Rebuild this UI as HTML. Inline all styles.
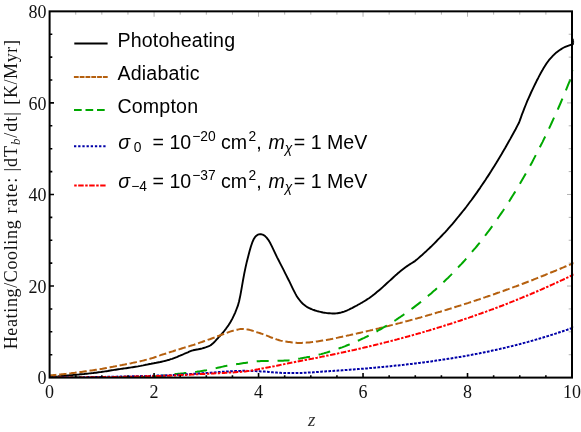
<!DOCTYPE html>
<html lang="en"><head><meta charset="utf-8"><title>Heating/Cooling rate vs z</title>
<style>
html,body{margin:0;padding:0;background:#fff;}
body{width:581px;height:432px;overflow:hidden;font-family:"Liberation Sans", sans-serif;}
svg{display:block;will-change:transform;}
.tk{font-family:"Liberation Serif", serif;font-size:18px;fill:#111;}
.lg{font-family:"Liberation Sans", sans-serif;font-size:19.6px;fill:#000;}
.it{font-style:italic;}
</style></head><body>
<svg width="581" height="432" viewBox="0 0 581 432">
<rect width="581" height="432" fill="#fff"/>
<defs><clipPath id="c"><rect x="49.6" y="10.35" width="523.9" height="367.25"/></clipPath></defs>
<g clip-path="url(#c)" fill="none" stroke-linejoin="round">
<path d="M50.0 377.4L51.3 377.2L52.6 377.0L53.9 376.9L55.3 376.7L56.6 376.6L57.9 376.5L59.2 376.3L60.5 376.2L61.8 376.0L63.1 375.9L64.4 375.8L65.8 375.7L67.1 375.5L68.4 375.4L69.7 375.3L71.0 375.2L72.3 375.1L73.6 374.9L74.9 374.8L76.3 374.7L77.6 374.6L78.9 374.5L80.2 374.3L81.5 374.2L82.8 374.1L84.1 374.0L85.4 373.8L86.8 373.7L88.1 373.6L89.4 373.4L90.7 373.3L92.0 373.1L93.3 373.0L94.6 372.8L96.0 372.7L97.3 372.5L98.6 372.3L99.9 372.1L101.2 372.0L102.5 371.8L103.8 371.6L105.1 371.4L106.5 371.2L107.8 371.0L109.1 370.7L110.4 370.5L111.7 370.3L113.0 370.1L114.3 369.9L115.6 369.7L117.0 369.5L118.3 369.3L119.6 369.1L120.9 368.9L122.2 368.7L123.5 368.5L124.8 368.4L126.2 368.2L127.5 368.0L128.8 367.8L130.1 367.6L131.4 367.4L132.7 367.2L134.0 367.0L135.3 366.8L136.7 366.6L138.0 366.4L139.3 366.1L140.6 365.9L141.9 365.6L143.2 365.4L144.5 365.1L145.8 364.8L147.2 364.6L148.5 364.3L149.8 364.0L151.1 363.8L152.4 363.5L153.7 363.3L155.0 363.0L156.3 362.8L157.7 362.5L159.0 362.2L160.3 362.0L161.6 361.7L162.9 361.4L164.2 361.1L165.5 360.8L166.9 360.4L168.2 360.0L169.5 359.7L170.8 359.2L172.1 358.8L173.4 358.3L174.7 357.8L176.0 357.3L177.4 356.8L178.7 356.2L180.0 355.7L181.3 355.1L182.6 354.6L183.9 354.0L185.2 353.4L186.5 352.9L187.9 352.3L189.2 351.7L190.5 351.2L191.8 350.7L193.1 350.3L194.4 350.0L195.7 349.7L197.0 349.5L198.4 349.3L199.7 349.0L201.0 348.7L202.3 348.4L203.6 348.0L204.9 347.6L206.2 347.2L207.6 346.7L208.9 346.2L210.2 345.5L211.5 344.6L212.8 343.5L214.1 342.3L215.4 340.9L216.7 339.4L218.1 338.0L219.4 336.5L220.7 335.1L222.0 333.6L223.3 332.1L224.6 330.5L225.9 328.8L227.2 327.0L228.6 325.1L229.9 323.1L231.2 320.8L232.5 318.4L233.8 315.7L235.1 312.8L236.4 309.5L237.8 305.9L239.1 301.3L240.4 295.1L241.7 287.9L243.0 280.4L244.3 273.4L245.6 267.1L246.9 261.4L248.3 256.0L249.6 251.1L250.9 246.5L252.2 242.7L253.5 239.6L254.8 237.4L256.1 235.9L257.4 234.9L258.8 234.4L260.1 234.2L261.4 234.3L262.7 234.7L264.0 235.3L265.3 236.3L266.6 237.6L267.9 239.3L269.3 241.4L270.6 243.8L271.9 246.4L273.2 249.1L274.5 251.9L275.8 254.7L277.1 257.4L278.5 260.0L279.8 262.6L281.1 265.1L282.4 267.6L283.7 270.2L285.0 272.8L286.3 275.4L287.6 278.0L289.0 280.7L290.3 283.4L291.6 286.1L292.9 288.8L294.2 291.4L295.5 293.9L296.8 296.2L298.1 298.2L299.5 300.0L300.8 301.6L302.1 303.0L303.4 304.3L304.7 305.3L306.0 306.3L307.3 307.1L308.7 307.8L310.0 308.5L311.3 309.0L312.6 309.6L313.9 310.0L315.2 310.5L316.5 310.9L317.8 311.3L319.2 311.6L320.5 311.9L321.8 312.2L323.1 312.5L324.4 312.7L325.7 312.9L327.0 313.1L328.3 313.2L329.7 313.3L331.0 313.4L332.3 313.5L333.6 313.5L334.9 313.5L336.2 313.4L337.5 313.2L338.8 313.0L340.2 312.8L341.5 312.4L342.8 312.0L344.1 311.6L345.4 311.1L346.7 310.6L348.0 310.0L349.4 309.4L350.7 308.7L352.0 308.1L353.3 307.4L354.6 306.7L355.9 306.0L357.2 305.3L358.5 304.5L359.9 303.8L361.2 303.0L362.5 302.3L363.8 301.5L365.1 300.7L366.4 299.9L367.7 299.0L369.0 298.2L370.4 297.2L371.7 296.3L373.0 295.3L374.3 294.3L375.6 293.2L376.9 292.1L378.2 291.0L379.5 289.9L380.9 288.8L382.2 287.6L383.5 286.4L384.8 285.2L386.1 284.0L387.4 282.8L388.7 281.6L390.1 280.4L391.4 279.2L392.7 278.0L394.0 276.8L395.3 275.6L396.6 274.5L397.9 273.3L399.2 272.2L400.6 271.1L401.9 270.0L403.2 269.0L404.5 268.0L405.8 267.0L407.1 266.1L408.4 265.2L409.7 264.4L411.1 263.5L412.4 262.7L413.7 261.9L415.0 261.1L416.8 259.6L418.5 258.1L420.3 256.5L422.1 255.0L423.8 253.4L425.6 251.8L427.3 250.1L429.1 248.5L430.9 246.8L432.6 245.1L434.4 243.3L436.2 241.5L437.9 239.7L439.7 237.9L441.5 236.0L443.2 234.2L445.0 232.3L446.8 230.3L448.5 228.3L450.3 226.3L452.1 224.3L453.8 222.3L455.6 220.2L457.3 218.0L459.1 215.9L460.9 213.7L462.6 211.5L464.4 209.3L466.2 207.0L467.9 204.7L469.7 202.3L471.5 200.0L473.2 197.6L475.0 195.1L476.8 192.6L478.5 190.1L480.3 187.6L482.0 185.0L483.8 182.4L485.6 179.8L487.3 177.1L489.1 174.4L490.9 171.6L492.6 168.8L494.4 166.0L496.2 163.1L497.9 160.2L499.7 157.3L501.5 154.3L503.2 151.3L505.0 148.3L506.7 145.2L508.5 142.1L510.3 138.9L512.0 135.7L513.8 132.5L515.6 129.2L517.3 125.9L519.1 122.5L520.5 118.7L521.8 114.9L523.2 111.3L524.5 107.9L525.9 104.5L527.2 101.2L528.6 98.1L530.0 95.0L531.3 92.0L532.7 89.1L534.0 86.3L535.4 83.5L536.7 80.8L538.1 78.2L539.4 75.6L540.8 73.0L542.2 70.6L543.5 68.2L544.9 66.0L546.2 63.9L547.6 62.0L548.9 60.2L550.3 58.6L551.7 57.1L553.0 55.7L554.4 54.3L555.7 53.1L557.1 52.0L558.4 51.0L559.8 50.0L561.2 49.1L562.5 48.3L563.9 47.5L565.2 46.9L566.6 46.3L567.9 45.8L569.3 45.3L570.7 44.8L572.0 44.4L573.4 44.0" stroke="#000" stroke-width="1.9"/>
<path d="M50.0 375.4L51.3 375.3L52.6 375.2L53.9 375.1L55.2 375.0L56.5 374.8L57.9 374.7L59.2 374.6L60.5 374.4L61.8 374.3L63.1 374.2L64.4 374.0L65.7 373.9L67.0 373.7L68.3 373.6L69.6 373.4L71.0 373.3L72.3 373.1L73.6 372.9L74.9 372.8L76.2 372.6L77.5 372.4L78.8 372.3L80.1 372.1L81.4 371.9L82.7 371.7L84.1 371.5L85.4 371.3L86.7 371.2L88.0 371.0L89.3 370.8L90.6 370.6L91.9 370.4L93.2 370.2L94.5 370.0L95.8 369.8L97.1 369.6L98.5 369.4L99.8 369.2L101.1 369.0L102.4 368.8L103.7 368.5L105.0 368.3L106.3 368.1L107.6 367.8L108.9 367.6L110.2 367.3L111.6 367.0L112.9 366.8L114.2 366.5L115.5 366.3L116.8 366.0L118.1 365.7L119.4 365.5L120.7 365.2L122.0 365.0L123.3 364.7L124.7 364.5L126.0 364.2L127.3 364.0L128.6 363.7L129.9 363.4L131.2 363.2L132.5 362.9L133.8 362.6L135.1 362.4L136.4 362.1L137.8 361.8L139.1 361.5L140.4 361.2L141.7 360.9L143.0 360.6L144.3 360.3L145.6 359.9L146.9 359.6L148.2 359.2L149.5 358.9L150.8 358.5L152.2 358.1L153.5 357.7L154.8 357.2L156.1 356.8L157.4 356.3L158.7 355.8L160.0 355.4L161.3 354.9L162.6 354.5L163.9 354.1L165.3 353.7L166.6 353.3L167.9 352.8L169.2 352.4L170.5 352.0L171.8 351.6L173.1 351.2L174.4 350.7L175.7 350.3L177.0 349.9L178.4 349.5L179.7 349.1L181.0 348.7L182.3 348.3L183.6 347.9L184.9 347.5L186.2 347.1L187.5 346.8L188.8 346.4L190.1 345.9L191.4 345.5L192.8 345.1L194.1 344.7L195.4 344.2L196.7 343.8L198.0 343.4L199.3 342.9L200.6 342.4L201.9 342.0L203.2 341.5L204.5 341.0L205.9 340.5L207.2 340.1L208.5 339.6L209.8 339.2L211.1 338.7L212.4 338.2L213.7 337.8L215.0 337.3L216.3 336.8L217.6 336.3L219.0 335.8L220.3 335.3L221.6 334.8L222.9 334.3L224.2 333.8L225.5 333.3L226.8 332.9L228.1 332.4L229.4 331.9L230.7 331.4L232.1 331.0L233.4 330.6L234.7 330.2L236.0 329.9L237.3 329.7L238.6 329.4L239.9 329.1L241.2 329.0L242.5 328.9L243.8 329.0L245.1 329.1L246.5 329.3L247.8 329.6L249.1 329.8L250.4 330.1L251.7 330.5L253.0 330.9L254.3 331.3L255.6 331.7L256.9 332.2L258.2 332.6L259.6 333.0L260.9 333.5L262.2 333.9L263.5 334.4L264.8 334.9L266.1 335.4L267.4 335.9L268.7 336.4L270.0 337.0L271.3 337.5L272.7 338.0L274.0 338.5L275.3 338.9L276.6 339.4L277.9 339.8L279.2 340.2L280.5 340.6L281.8 340.9L283.1 341.2L284.4 341.4L285.7 341.6L287.1 341.8L288.4 342.0L289.7 342.1L291.0 342.3L292.3 342.5L293.6 342.6L294.9 342.7L296.2 342.8L297.5 342.9L298.8 342.9L300.2 342.9L301.5 342.9L302.8 342.8L304.1 342.8L305.4 342.7L306.7 342.6L308.0 342.5L309.3 342.4L310.6 342.2L311.9 342.1L313.3 341.9L314.6 341.8L315.9 341.6L317.2 341.4L318.5 341.2L319.8 341.0L321.1 340.8L322.4 340.6L323.7 340.4L325.0 340.2L326.4 340.0L327.7 339.8L329.0 339.6L330.3 339.3L331.6 339.1L332.9 338.8L334.2 338.5L335.5 338.2L336.8 337.9L338.1 337.6L339.4 337.3L340.8 337.1L342.1 336.8L343.4 336.5L344.7 336.2L346.0 335.9L347.3 335.6L348.6 335.4L349.9 335.1L351.2 334.8L352.5 334.5L353.9 334.2L355.2 333.9L356.5 333.6L357.8 333.3L359.1 333.0L360.4 332.7L361.7 332.4L363.0 332.1L364.3 331.8L365.6 331.5L367.0 331.2L368.3 330.9L369.6 330.6L370.9 330.3L372.2 330.0L373.5 329.6L374.8 329.3L376.1 329.0L377.4 328.7L378.7 328.4L380.0 328.0L381.4 327.7L382.7 327.4L384.0 327.1L385.3 326.7L386.6 326.4L387.9 326.1L389.2 325.8L390.5 325.4L391.8 325.1L393.1 324.8L394.5 324.4L395.8 324.1L397.1 323.7L398.4 323.4L399.7 323.1L401.0 322.7L402.3 322.4L403.6 322.0L404.9 321.7L406.2 321.3L407.6 321.0L408.9 320.6L410.2 320.3L411.5 319.9L412.8 319.5L414.1 319.2L415.4 318.8L416.7 318.5L418.0 318.1L419.3 317.7L420.7 317.4L422.0 317.0L423.3 316.6L424.6 316.2L425.9 315.9L427.2 315.5L428.5 315.1L429.8 314.7L431.1 314.4L432.4 314.0L433.7 313.6L435.1 313.2L436.4 312.8L437.7 312.4L439.0 312.0L440.3 311.7L441.6 311.3L442.9 310.9L444.2 310.5L445.5 310.1L446.8 309.7L448.2 309.3L449.5 308.9L450.8 308.5L452.1 308.1L453.4 307.7L454.7 307.2L456.0 306.8L457.3 306.4L458.6 306.0L459.9 305.6L461.3 305.2L462.6 304.8L463.9 304.3L465.2 303.9L466.5 303.5L467.8 303.1L469.1 302.6L470.4 302.2L471.7 301.8L473.0 301.4L474.3 300.9L475.7 300.5L477.0 300.0L478.3 299.6L479.6 299.2L480.9 298.7L482.2 298.3L483.5 297.8L484.8 297.4L486.1 296.9L487.4 296.5L488.8 296.0L490.1 295.6L491.4 295.1L492.7 294.7L494.0 294.2L495.3 293.8L496.6 293.3L497.9 292.8L499.2 292.4L500.5 291.9L501.9 291.4L503.2 291.0L504.5 290.5L505.8 290.0L507.1 289.5L508.4 289.1L509.7 288.6L511.0 288.1L512.3 287.6L513.6 287.1L514.9 286.6L516.3 286.2L517.6 285.7L518.9 285.2L520.2 284.7L521.5 284.2L522.8 283.7L524.1 283.2L525.4 282.7L526.7 282.2L528.0 281.7L529.4 281.2L530.7 280.7L532.0 280.2L533.3 279.7L534.6 279.1L535.9 278.6L537.2 278.1L538.5 277.6L539.8 277.1L541.1 276.5L542.5 276.0L543.8 275.5L545.1 275.0L546.4 274.4L547.7 273.9L549.0 273.4L550.3 272.8L551.6 272.3L552.9 271.8L554.2 271.2L555.6 270.7L556.9 270.1L558.2 269.6L559.5 269.1L560.8 268.5L562.1 267.9L563.4 267.4L564.7 266.8L566.0 266.3L567.3 265.7L568.6 265.2L570.0 264.6L571.3 264.0L572.6 263.5L573.9 262.9" stroke="#b5600f" stroke-width="2" stroke-dasharray="7.4 2.8" stroke-dashoffset="1"/>
<path d="M50.0 377.6L51.3 377.6L52.6 377.6L53.9 377.6L55.2 377.6L56.5 377.6L57.9 377.6L59.2 377.6L60.5 377.6L61.8 377.6L63.1 377.6L64.4 377.6L65.7 377.6L67.0 377.6L68.3 377.6L69.6 377.6L71.0 377.6L72.3 377.6L73.6 377.6L74.9 377.6L76.2 377.6L77.5 377.6L78.8 377.6L80.1 377.6L81.4 377.6L82.7 377.6L84.1 377.6L85.4 377.6L86.7 377.6L88.0 377.6L89.3 377.5L90.6 377.5L91.9 377.5L93.2 377.5L94.5 377.5L95.8 377.5L97.1 377.5L98.5 377.5L99.8 377.5L101.1 377.5L102.4 377.5L103.7 377.5L105.0 377.5L106.3 377.5L107.6 377.5L108.9 377.5L110.2 377.5L111.6 377.5L112.9 377.5L114.2 377.5L115.5 377.4L116.8 377.4L118.1 377.4L119.4 377.4L120.7 377.4L122.0 377.4L123.3 377.4L124.7 377.4L126.0 377.4L127.3 377.4L128.6 377.4L129.9 377.4L131.2 377.3L132.5 377.3L133.8 377.3L135.1 377.3L136.4 377.2L137.8 377.2L139.1 377.2L140.4 377.1L141.7 377.1L143.0 377.0L144.3 377.0L145.6 376.9L146.9 376.8L148.2 376.8L149.5 376.7L150.8 376.6L152.2 376.6L153.5 376.5L154.8 376.4L156.1 376.3L157.4 376.2L158.7 376.1L160.0 376.0L161.3 375.8L162.6 375.7L163.9 375.5L165.3 375.4L166.6 375.2L167.9 375.0L169.2 374.9L170.5 374.7L171.8 374.6L173.1 374.4L174.4 374.3L175.7 374.1L177.0 374.0L178.4 373.8L179.7 373.7L181.0 373.5L182.3 373.4L183.6 373.3L184.9 373.1L186.2 373.0L187.5 372.8L188.8 372.7L190.1 372.6L191.4 372.4L192.8 372.3L194.1 372.1L195.4 371.9L196.7 371.8L198.0 371.6L199.3 371.4L200.6 371.2L201.9 371.0L203.2 370.8L204.5 370.6L205.9 370.4L207.2 370.1L208.5 369.8L209.8 369.6L211.1 369.3L212.4 369.0L213.7 368.7L215.0 368.4L216.3 368.1L217.6 367.8L219.0 367.5L220.3 367.2L221.6 366.9L222.9 366.6L224.2 366.3L225.5 366.1L226.8 365.8L228.1 365.6L229.4 365.4L230.7 365.1L232.1 364.9L233.4 364.7L234.7 364.5L236.0 364.3L237.3 364.1L238.6 363.9L239.9 363.7L241.2 363.5L242.5 363.3L243.8 363.1L245.1 363.0L246.5 362.8L247.8 362.6L249.1 362.4L250.4 362.2L251.7 362.0L253.0 361.7L254.3 361.6L255.6 361.4L256.9 361.3L258.2 361.3L259.6 361.2L260.9 361.1L262.2 361.1L263.5 361.0L264.8 361.0L266.1 360.9L267.4 360.9L268.7 360.9L270.0 360.9L271.3 360.9L272.7 360.9L274.0 360.9L275.3 360.9L276.6 360.9L277.9 360.8L279.2 360.8L280.5 360.8L281.8 360.7L283.1 360.7L284.4 360.6L285.7 360.5L287.1 360.5L288.4 360.4L289.7 360.3L291.0 360.1L292.3 359.9L293.6 359.7L294.9 359.5L296.2 359.2L297.5 358.9L298.8 358.7L300.2 358.5L301.5 358.2L302.8 358.0L304.1 357.8L305.4 357.6L306.7 357.3L308.0 357.1L309.3 356.9L310.6 356.6L311.9 356.3L313.3 356.0L314.6 355.7L315.9 355.4L317.2 355.1L318.5 354.8L319.8 354.4L321.1 354.1L322.4 353.7L323.7 353.4L325.0 353.0L326.4 352.6L327.7 352.2L329.0 351.8L330.3 351.4L331.6 351.0L332.9 350.6L334.2 350.2L335.5 349.7L336.8 349.3L338.1 348.8L339.4 348.3L340.8 347.8L342.1 347.4L343.4 346.9L344.7 346.4L346.0 345.8L347.3 345.3L348.6 344.8L349.9 344.3L351.2 343.7L352.5 343.2L353.9 342.6L355.2 342.0L356.5 341.4L357.8 340.8L359.1 340.3L360.4 339.6L361.7 339.0L363.0 338.4L364.3 337.8L365.6 337.1L367.0 336.5L368.3 335.8L369.6 335.2L370.9 334.5L372.2 333.8L373.5 333.1L374.8 332.4L376.1 331.7L377.4 331.0L378.7 330.2L380.0 329.5L381.4 328.8L382.7 328.0L384.0 327.2L385.3 326.5L386.6 325.7L387.9 324.9L389.2 324.1L390.5 323.3L391.8 322.5L393.1 321.6L394.5 320.8L395.8 320.0L397.1 319.1L398.4 318.2L399.7 317.4L401.0 316.5L402.3 315.6L403.6 314.7L404.9 313.8L406.2 312.8L407.6 311.9L408.9 311.0L410.2 310.0L411.5 309.1L412.8 308.1L414.1 307.1L415.4 306.1L416.7 305.1L418.0 304.1L419.3 303.1L420.7 302.0L422.0 301.0L423.3 299.9L424.6 298.9L425.9 297.8L427.2 296.7L428.5 295.6L429.8 294.5L431.1 293.4L432.4 292.2L433.7 291.1L435.1 289.9L436.4 288.7L437.7 287.6L439.0 286.4L440.3 285.2L441.6 283.9L442.9 282.7L444.2 281.5L445.5 280.2L446.8 278.9L448.2 277.7L449.5 276.4L450.8 275.1L452.1 273.7L453.4 272.4L454.7 271.1L456.0 269.7L457.3 268.3L458.6 266.9L459.9 265.5L461.3 264.1L462.6 262.7L463.9 261.3L465.2 259.8L466.5 258.3L467.8 256.8L469.1 255.3L470.4 253.8L471.7 252.3L473.0 250.7L474.3 249.2L475.7 247.6L477.0 246.0L478.3 244.4L479.6 242.8L480.9 241.1L482.2 239.4L483.5 237.8L484.8 236.1L486.1 234.4L487.4 232.6L488.8 230.9L490.1 229.1L491.4 227.3L492.7 225.5L494.0 223.7L495.3 221.9L496.6 220.0L497.9 218.2L499.2 216.3L500.5 214.4L501.9 212.4L503.2 210.5L504.5 208.5L505.8 206.5L507.1 204.5L508.4 202.5L509.7 200.5L511.0 198.4L512.3 196.3L513.6 194.2L514.9 192.1L516.3 189.9L517.6 187.7L518.9 185.6L520.2 183.3L521.5 181.1L522.8 178.8L524.1 176.5L525.4 174.2L526.7 171.9L528.0 169.6L529.4 167.2L530.7 164.8L532.0 162.4L533.3 159.9L534.6 157.4L535.9 154.9L537.2 152.4L538.5 149.9L539.8 147.3L541.1 144.7L542.5 142.1L543.8 139.4L545.1 136.7L546.4 134.0L547.7 131.3L549.0 128.6L550.3 125.8L551.6 123.0L552.9 120.1L554.2 117.3L555.6 114.4L556.9 111.4L558.2 108.5L559.5 105.5L560.8 102.5L562.1 99.4L563.4 96.4L564.7 93.2L566.0 90.1L567.3 86.9L568.6 83.7L570.0 80.5L571.3 77.3L572.6 74.0L573.9 70.7" stroke="#00a800" stroke-width="2" stroke-dasharray="12 8.84" stroke-dashoffset="0.4"/>
<path d="M50.0 377.6L51.3 377.6L52.6 377.6L53.9 377.6L55.2 377.6L56.5 377.5L57.9 377.5L59.2 377.5L60.5 377.5L61.8 377.5L63.1 377.5L64.4 377.5L65.7 377.4L67.0 377.4L68.3 377.4L69.6 377.4L71.0 377.4L72.3 377.4L73.6 377.3L74.9 377.3L76.2 377.3L77.5 377.3L78.8 377.3L80.1 377.3L81.4 377.2L82.7 377.2L84.1 377.2L85.4 377.2L86.7 377.2L88.0 377.1L89.3 377.1L90.6 377.1L91.9 377.1L93.2 377.1L94.5 377.0L95.8 377.0L97.1 377.0L98.5 377.0L99.8 377.0L101.1 376.9L102.4 376.9L103.7 376.9L105.0 376.9L106.3 376.8L107.6 376.8L108.9 376.8L110.2 376.8L111.6 376.7L112.9 376.7L114.2 376.7L115.5 376.7L116.8 376.7L118.1 376.6L119.4 376.6L120.7 376.6L122.0 376.5L123.3 376.5L124.7 376.5L126.0 376.5L127.3 376.4L128.6 376.4L129.9 376.4L131.2 376.4L132.5 376.3L133.8 376.3L135.1 376.3L136.4 376.2L137.8 376.2L139.1 376.2L140.4 376.1L141.7 376.1L143.0 376.1L144.3 376.0L145.6 376.0L146.9 376.0L148.2 375.9L149.5 375.9L150.8 375.8L152.2 375.8L153.5 375.8L154.8 375.7L156.1 375.7L157.4 375.6L158.7 375.6L160.0 375.6L161.3 375.5L162.6 375.5L163.9 375.4L165.3 375.4L166.6 375.3L167.9 375.3L169.2 375.2L170.5 375.2L171.8 375.1L173.1 375.0L174.4 375.0L175.7 374.9L177.0 374.8L178.4 374.8L179.7 374.7L181.0 374.6L182.3 374.5L183.6 374.5L184.9 374.4L186.2 374.3L187.5 374.2L188.8 374.1L190.1 374.1L191.4 374.0L192.8 373.9L194.1 373.8L195.4 373.7L196.7 373.6L198.0 373.5L199.3 373.5L200.6 373.4L201.9 373.3L203.2 373.2L204.5 373.1L205.9 373.1L207.2 373.0L208.5 372.9L209.8 372.8L211.1 372.7L212.4 372.6L213.7 372.5L215.0 372.4L216.3 372.3L217.6 372.2L219.0 372.1L220.3 372.0L221.6 371.9L222.9 371.8L224.2 371.7L225.5 371.6L226.8 371.5L228.1 371.5L229.4 371.4L230.7 371.3L232.1 371.2L233.4 371.1L234.7 371.1L236.0 371.0L237.3 371.0L238.6 370.9L239.9 370.9L241.2 370.9L242.5 370.8L243.8 370.8L245.1 370.8L246.5 370.8L247.8 370.9L249.1 370.9L250.4 370.9L251.7 371.0L253.0 371.0L254.3 371.1L255.6 371.1L256.9 371.2L258.2 371.2L259.6 371.3L260.9 371.4L262.2 371.4L263.5 371.5L264.8 371.6L266.1 371.7L267.4 371.8L268.7 372.0L270.0 372.1L271.3 372.2L272.7 372.3L274.0 372.4L275.3 372.5L276.6 372.6L277.9 372.7L279.2 372.7L280.5 372.8L281.8 372.9L283.1 372.9L284.4 373.0L285.7 373.0L287.1 373.0L288.4 373.0L289.7 373.1L291.0 373.1L292.3 373.1L293.6 373.1L294.9 373.1L296.2 373.0L297.5 373.0L298.8 373.0L300.2 373.0L301.5 372.9L302.8 372.9L304.1 372.8L305.4 372.7L306.7 372.7L308.0 372.6L309.3 372.5L310.6 372.4L311.9 372.4L313.3 372.3L314.6 372.2L315.9 372.1L317.2 372.0L318.5 371.9L319.8 371.8L321.1 371.7L322.4 371.6L323.7 371.5L325.0 371.4L326.4 371.3L327.7 371.3L329.0 371.2L330.3 371.1L331.6 371.0L332.9 370.9L334.2 370.8L335.5 370.7L336.8 370.7L338.1 370.6L339.4 370.5L340.8 370.4L342.1 370.3L343.4 370.2L344.7 370.1L346.0 370.0L347.3 369.9L348.6 369.8L349.9 369.7L351.2 369.6L352.5 369.5L353.9 369.4L355.2 369.3L356.5 369.2L357.8 369.1L359.1 369.0L360.4 368.9L361.7 368.8L363.0 368.7L364.3 368.6L365.6 368.5L367.0 368.4L368.3 368.2L369.6 368.1L370.9 368.0L372.2 367.9L373.5 367.8L374.8 367.7L376.1 367.6L377.4 367.4L378.7 367.3L380.0 367.2L381.4 367.1L382.7 366.9L384.0 366.8L385.3 366.7L386.6 366.6L387.9 366.4L389.2 366.3L390.5 366.2L391.8 366.0L393.1 365.9L394.5 365.8L395.8 365.6L397.1 365.5L398.4 365.4L399.7 365.2L401.0 365.1L402.3 364.9L403.6 364.8L404.9 364.6L406.2 364.5L407.6 364.3L408.9 364.2L410.2 364.0L411.5 363.9L412.8 363.7L414.1 363.6L415.4 363.4L416.7 363.2L418.0 363.1L419.3 362.9L420.7 362.7L422.0 362.6L423.3 362.4L424.6 362.2L425.9 362.1L427.2 361.9L428.5 361.7L429.8 361.5L431.1 361.4L432.4 361.2L433.7 361.0L435.1 360.8L436.4 360.6L437.7 360.4L439.0 360.2L440.3 360.0L441.6 359.8L442.9 359.6L444.2 359.4L445.5 359.2L446.8 359.0L448.2 358.8L449.5 358.6L450.8 358.4L452.1 358.2L453.4 358.0L454.7 357.8L456.0 357.6L457.3 357.3L458.6 357.1L459.9 356.9L461.3 356.7L462.6 356.4L463.9 356.2L465.2 356.0L466.5 355.7L467.8 355.5L469.1 355.3L470.4 355.0L471.7 354.8L473.0 354.5L474.3 354.3L475.7 354.0L477.0 353.8L478.3 353.5L479.6 353.3L480.9 353.0L482.2 352.7L483.5 352.5L484.8 352.2L486.1 351.9L487.4 351.7L488.8 351.4L490.1 351.1L491.4 350.8L492.7 350.5L494.0 350.2L495.3 350.0L496.6 349.7L497.9 349.4L499.2 349.1L500.5 348.8L501.9 348.5L503.2 348.2L504.5 347.9L505.8 347.6L507.1 347.2L508.4 346.9L509.7 346.6L511.0 346.3L512.3 346.0L513.6 345.6L514.9 345.3L516.3 345.0L517.6 344.6L518.9 344.3L520.2 344.0L521.5 343.6L522.8 343.3L524.1 342.9L525.4 342.6L526.7 342.2L528.0 341.9L529.4 341.5L530.7 341.1L532.0 340.8L533.3 340.4L534.6 340.0L535.9 339.6L537.2 339.3L538.5 338.9L539.8 338.5L541.1 338.1L542.5 337.7L543.8 337.3L545.1 336.9L546.4 336.5L547.7 336.1L549.0 335.7L550.3 335.3L551.6 334.9L552.9 334.5L554.2 334.1L555.6 333.6L556.9 333.2L558.2 332.8L559.5 332.3L560.8 331.9L562.1 331.5L563.4 331.0L564.7 330.6L566.0 330.1L567.3 329.7L568.6 329.2L570.0 328.7L571.3 328.3L572.6 327.8L573.9 327.3" stroke="#0000a8" stroke-width="2" stroke-dasharray="2.7 1.4"/>
<path d="M50.0 377.6L51.3 377.6L52.6 377.6L53.9 377.6L55.2 377.6L56.5 377.6L57.9 377.6L59.2 377.6L60.5 377.6L61.8 377.5L63.1 377.5L64.4 377.5L65.7 377.5L67.0 377.5L68.3 377.5L69.6 377.5L71.0 377.5L72.3 377.5L73.6 377.5L74.9 377.4L76.2 377.4L77.5 377.4L78.8 377.4L80.1 377.4L81.4 377.4L82.7 377.4L84.1 377.4L85.4 377.3L86.7 377.3L88.0 377.3L89.3 377.3L90.6 377.3L91.9 377.3L93.2 377.2L94.5 377.2L95.8 377.2L97.1 377.2L98.5 377.2L99.8 377.2L101.1 377.2L102.4 377.1L103.7 377.1L105.0 377.1L106.3 377.1L107.6 377.1L108.9 377.1L110.2 377.0L111.6 377.0L112.9 377.0L114.2 377.0L115.5 377.0L116.8 376.9L118.1 376.9L119.4 376.9L120.7 376.9L122.0 376.8L123.3 376.8L124.7 376.8L126.0 376.8L127.3 376.7L128.6 376.7L129.9 376.7L131.2 376.7L132.5 376.6L133.8 376.6L135.1 376.6L136.4 376.6L137.8 376.5L139.1 376.5L140.4 376.5L141.7 376.4L143.0 376.4L144.3 376.4L145.6 376.3L146.9 376.3L148.2 376.3L149.5 376.2L150.8 376.2L152.2 376.2L153.5 376.1L154.8 376.1L156.1 376.1L157.4 376.0L158.7 376.0L160.0 376.0L161.3 375.9L162.6 375.9L163.9 375.8L165.3 375.8L166.6 375.8L167.9 375.7L169.2 375.7L170.5 375.6L171.8 375.6L173.1 375.5L174.4 375.5L175.7 375.4L177.0 375.3L178.4 375.3L179.7 375.2L181.0 375.1L182.3 375.1L183.6 375.0L184.9 374.9L186.2 374.9L187.5 374.8L188.8 374.7L190.1 374.7L191.4 374.6L192.8 374.5L194.1 374.4L195.4 374.4L196.7 374.3L198.0 374.2L199.3 374.1L200.6 374.1L201.9 374.0L203.2 373.9L204.5 373.9L205.9 373.8L207.2 373.7L208.5 373.7L209.8 373.6L211.1 373.5L212.4 373.5L213.7 373.4L215.0 373.3L216.3 373.3L217.6 373.2L219.0 373.2L220.3 373.1L221.6 373.0L222.9 373.0L224.2 372.9L225.5 372.8L226.8 372.8L228.1 372.7L229.4 372.6L230.7 372.5L232.1 372.5L233.4 372.4L234.7 372.3L236.0 372.2L237.3 372.1L238.6 372.0L239.9 371.9L241.2 371.8L242.5 371.7L243.8 371.6L245.1 371.4L246.5 371.3L247.8 371.1L249.1 371.0L250.4 370.8L251.7 370.5L253.0 370.3L254.3 370.0L255.6 369.7L256.9 369.4L258.2 369.2L259.6 368.9L260.9 368.7L262.2 368.4L263.5 368.2L264.8 368.0L266.1 367.7L267.4 367.5L268.7 367.3L270.0 367.0L271.3 366.8L272.7 366.5L274.0 366.3L275.3 366.0L276.6 365.8L277.9 365.5L279.2 365.2L280.5 364.9L281.8 364.6L283.1 364.4L284.4 364.1L285.7 363.8L287.1 363.6L288.4 363.3L289.7 363.1L291.0 362.8L292.3 362.6L293.6 362.3L294.9 362.0L296.2 361.8L297.5 361.5L298.8 361.2L300.2 360.9L301.5 360.7L302.8 360.4L304.1 360.2L305.4 359.9L306.7 359.7L308.0 359.4L309.3 359.2L310.6 358.9L311.9 358.7L313.3 358.4L314.6 358.2L315.9 357.9L317.2 357.7L318.5 357.4L319.8 357.2L321.1 356.9L322.4 356.6L323.7 356.4L325.0 356.1L326.4 355.8L327.7 355.6L329.0 355.3L330.3 355.0L331.6 354.8L332.9 354.5L334.2 354.2L335.5 353.9L336.8 353.7L338.1 353.4L339.4 353.1L340.8 352.8L342.1 352.6L343.4 352.3L344.7 352.0L346.0 351.7L347.3 351.4L348.6 351.1L349.9 350.8L351.2 350.5L352.5 350.2L353.9 350.0L355.2 349.7L356.5 349.4L357.8 349.1L359.1 348.8L360.4 348.5L361.7 348.2L363.0 347.9L364.3 347.5L365.6 347.2L367.0 346.9L368.3 346.6L369.6 346.3L370.9 346.0L372.2 345.7L373.5 345.4L374.8 345.0L376.1 344.7L377.4 344.4L378.7 344.1L380.0 343.7L381.4 343.4L382.7 343.1L384.0 342.8L385.3 342.4L386.6 342.1L387.9 341.8L389.2 341.4L390.5 341.1L391.8 340.8L393.1 340.4L394.5 340.1L395.8 339.7L397.1 339.4L398.4 339.0L399.7 338.7L401.0 338.3L402.3 338.0L403.6 337.6L404.9 337.3L406.2 336.9L407.6 336.6L408.9 336.2L410.2 335.8L411.5 335.5L412.8 335.1L414.1 334.7L415.4 334.4L416.7 334.0L418.0 333.6L419.3 333.2L420.7 332.9L422.0 332.5L423.3 332.1L424.6 331.7L425.9 331.3L427.2 330.9L428.5 330.6L429.8 330.2L431.1 329.8L432.4 329.4L433.7 329.0L435.1 328.6L436.4 328.2L437.7 327.8L439.0 327.4L440.3 327.0L441.6 326.6L442.9 326.2L444.2 325.8L445.5 325.3L446.8 324.9L448.2 324.5L449.5 324.1L450.8 323.7L452.1 323.3L453.4 322.8L454.7 322.4L456.0 322.0L457.3 321.5L458.6 321.1L459.9 320.7L461.3 320.2L462.6 319.8L463.9 319.4L465.2 318.9L466.5 318.5L467.8 318.0L469.1 317.6L470.4 317.1L471.7 316.7L473.0 316.2L474.3 315.8L475.7 315.3L477.0 314.9L478.3 314.4L479.6 313.9L480.9 313.5L482.2 313.0L483.5 312.5L484.8 312.0L486.1 311.6L487.4 311.1L488.8 310.6L490.1 310.1L491.4 309.6L492.7 309.2L494.0 308.7L495.3 308.2L496.6 307.7L497.9 307.2L499.2 306.7L500.5 306.2L501.9 305.7L503.2 305.2L504.5 304.7L505.8 304.2L507.1 303.7L508.4 303.1L509.7 302.6L511.0 302.1L512.3 301.6L513.6 301.1L514.9 300.5L516.3 300.0L517.6 299.5L518.9 299.0L520.2 298.4L521.5 297.9L522.8 297.3L524.1 296.8L525.4 296.3L526.7 295.7L528.0 295.2L529.4 294.6L530.7 294.1L532.0 293.5L533.3 293.0L534.6 292.4L535.9 291.8L537.2 291.3L538.5 290.7L539.8 290.1L541.1 289.6L542.5 289.0L543.8 288.4L545.1 287.8L546.4 287.2L547.7 286.7L549.0 286.1L550.3 285.5L551.6 284.9L552.9 284.3L554.2 283.7L555.6 283.1L556.9 282.5L558.2 281.9L559.5 281.3L560.8 280.7L562.1 280.1L563.4 279.5L564.7 278.8L566.0 278.2L567.3 277.6L568.6 277.0L570.0 276.3L571.3 275.7L572.6 275.1L573.9 274.4" stroke="#ff0000" stroke-width="2" stroke-dasharray="2.4 1.55 5.5 1.55" stroke-dashoffset="-3"/>
</g>
<path d="M75.72 11.35v3.3M101.84 11.35v3.3M127.96 11.35v3.3M154.08 11.35v5.4M180.20 11.35v3.3M206.32 11.35v3.3M232.44 11.35v3.3M258.56 11.35v5.4M284.68 11.35v3.3M310.80 11.35v3.3M336.92 11.35v3.3M363.04 11.35v5.4M389.16 11.35v3.3M415.28 11.35v3.3M441.40 11.35v3.3M467.52 11.35v5.4M493.64 11.35v3.3M519.76 11.35v3.3M545.88 11.35v3.3M572.00 354.71h-3.3000000000000003M572.00 331.82h-3.3000000000000003M572.00 308.93h-3.3000000000000003M572.00 286.04h-5.0M572.00 263.15h-3.3000000000000003M572.00 240.26h-3.3000000000000003M572.00 217.37h-3.3000000000000003M572.00 194.48h-5.0M572.00 171.58h-3.3000000000000003M572.00 148.69h-3.3000000000000003M572.00 125.80h-3.3000000000000003M572.00 102.91h-5.0M572.00 80.02h-3.3000000000000003M572.00 57.13h-3.3000000000000003M572.00 34.24h-3.3000000000000003" stroke="#808080" stroke-width="0.6" fill="none"/>
<path d="M75.72 377.60v-2.4M101.84 377.60v-2.4M127.96 377.60v-2.4M154.08 377.60v-4.5M180.20 377.60v-2.4M206.32 377.60v-2.4M232.44 377.60v-2.4M258.56 377.60v-4.5M284.68 377.60v-2.4M310.80 377.60v-2.4M336.92 377.60v-2.4M363.04 377.60v-4.5M389.16 377.60v-2.4M415.28 377.60v-2.4M441.40 377.60v-2.4M467.52 377.60v-4.5M493.64 377.60v-2.4M519.76 377.60v-2.4M545.88 377.60v-2.4M49.60 354.71h2.7M49.60 331.82h2.7M49.60 308.93h2.7M49.60 286.04h4.4M49.60 263.15h2.7M49.60 240.26h2.7M49.60 217.37h2.7M49.60 194.48h4.4M49.60 171.58h2.7M49.60 148.69h2.7M49.60 125.80h2.7M49.60 102.91h4.4M49.60 80.02h2.7M49.60 57.13h2.7M49.60 34.24h2.7" stroke="#000" stroke-width="1.6" fill="none"/>
<rect x="49.6" y="11.35" width="522.40" height="366.25" fill="none" stroke="#000" stroke-width="2"/>
<path d="M572.8 45.2C573.9 44 573.9 40.5 572.9 38.5" fill="none" stroke="#000" stroke-width="1"/>
<g class="tk" text-anchor="middle">
<text x="49.6" y="397.8">0</text>
<text x="154.1" y="397.8">2</text>
<text x="258.6" y="397.8">4</text>
<text x="363.0" y="397.8">6</text>
<text x="467.5" y="397.8">8</text>
<text x="572.0" y="397.8">10</text>
</g>
<g class="tk" text-anchor="end">
<text x="46.6" y="384.2">0</text>
<text x="46.6" y="292.6">20</text>
<text x="46.6" y="201.1">40</text>
<text x="46.6" y="109.5">60</text>
<text x="46.6" y="18.0">80</text>
</g>
<text class="tk it" x="311.6" y="426.2" text-anchor="middle" style="font-size:19px;fill:#333">z</text>
<g class="tk" transform="translate(17.3 349) rotate(-90)">
<text x="-0.3" y="0" style="letter-spacing:0.64px">Heating/Cooling</text>
<text x="135.6" y="0" style="letter-spacing:0.9px">rate:</text>
<text x="177.5" y="0" style="letter-spacing:0.94px">|dT<tspan class="it" style="font-size:13px" dy="3">b</tspan><tspan dy="-3">/dt|</tspan></text>
<text x="244.3" y="0" style="letter-spacing:0.6px">[K/Myr]</text>
</g>
<g fill="none" stroke-width="2">
<path d="M74.3 43.6H107.6" stroke="#000"/>
<path d="M73.9 77H107.8" stroke="#b5600f" stroke-dasharray="4.8 1"/>
<path d="M74 110.1H105" stroke="#00a800" stroke-dasharray="7.7 3.8"/>
<path d="M74 146.2H106.3" stroke="#0000a8" stroke-dasharray="2.3 1.88"/>
<path d="M74.2 185.4H105.6" stroke="#ff0000" stroke-dasharray="2.5 1.5 5.5 1.5"/>
</g>
<g class="lg">
<text x="117.4" y="46.8" style="letter-spacing:0.2px">Photoheating</text>
<text x="117.4" y="80" style="letter-spacing:0.2px">Adiabatic</text>
<text x="117.4" y="113.4" style="letter-spacing:0.2px">Compton</text>
<text y="149.3"><tspan class="it" x="118.2">σ</tspan><tspan x="133.7" dy="2.9" style="font-size:13.8px">0</tspan><tspan x="152.5" dy="-2.9">= 10</tspan><tspan dy="-8.1" dx="1.0" style="font-size:13.8px">−20</tspan><tspan x="221.0" dy="8.1">cm</tspan><tspan dy="-8.1" dx="1.4" style="font-size:13.8px">2</tspan><tspan dy="8.1">, </tspan><tspan class="it" x="268.4">m</tspan><tspan class="it" dy="3.4" style="font-size:13.8px">χ</tspan><tspan dy="-3.4" x="293.8">= 1 MeV</tspan></text>
<text y="188.1"><tspan class="it" x="118.2">σ</tspan><tspan x="131.2" dy="2.9" style="font-size:13.8px">−4</tspan><tspan x="152.5" dy="-2.9">= 10</tspan><tspan dy="-8.1" dx="1.0" style="font-size:13.8px">−37</tspan><tspan x="221.0" dy="8.1">cm</tspan><tspan dy="-8.1" dx="1.4" style="font-size:13.8px">2</tspan><tspan dy="8.1">, </tspan><tspan class="it" x="268.4">m</tspan><tspan class="it" dy="3.4" style="font-size:13.8px">χ</tspan><tspan dy="-3.4" x="293.8">= 1 MeV</tspan></text>
</g>
</svg></body></html>
